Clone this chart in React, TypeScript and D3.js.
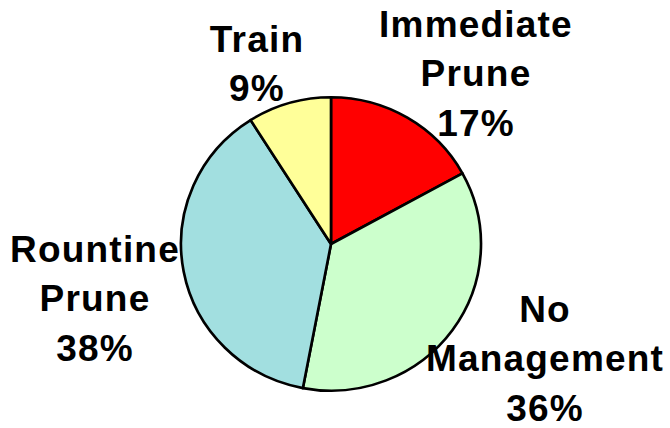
import React, { useRef, useEffect } from "react";
import * as d3 from "d3";

// slice order: clockwise from 12 o'clock
const categories = ["Immediate Prune", "No Management", "Rountine Prune", "Train"];
const shares = [17, 36, 38, 9];
const labelLines = [
  ["Immediate", "Prune", "17%"],
  ["No", "Management", "36%"],
  ["Rountine", "Prune", "38%"],
  ["Train", "9%"],
];
const colors = ["#ff0000", "#ccffcc", "#a2dfe0", "#ffff99"];

// label block centres (first baseline), layout only
const labelAnchors: [number, number][] = [
  [476, 37],
  [545, 322],
  [95, 262],
  [257, 52],
];

const PieChart = ({ width, height }: { width: number; height: number }) => {
  const d3Container = useRef(null);

  useEffect(() => {
    d3.select(d3Container.current).selectAll("*").remove();

    const svg = d3
      .select(d3Container.current)
      .attr("width", width)
      .attr("height", height);

    const cx = 331;
    const cy = 244;
    const ry = 146.7;
    const rx = 150;

    const pie = d3
      .pie<number>()
      .sort(null)
      .value((d) => d);
    const arcs = pie(shares);
    const arc = d3.arc<any>().innerRadius(0).outerRadius(ry);

    const g = svg
      .append("g")
      .attr("transform", `translate(${cx},${cy}) scale(${rx / ry},1)`);

    g.selectAll("path")
      .data(arcs)
      .enter()
      .append("path")
      .attr("d", arc)
      .attr("fill", (_d, i) => colors[i])
      .attr("stroke", "#000")
      .attr("stroke-width", 2.6)
      .attr("stroke-linejoin", "round");

    const labels = svg
      .append("g")
      .attr("font-family", "'Liberation Sans', Arial, sans-serif")
      .attr("font-weight", "bold")
      .attr("font-size", 37)
      .attr("letter-spacing", 1.2)
      .attr("text-anchor", "middle")
      .attr("fill", "#000");

    categories.forEach((_c, i) => {
      const [x, y] = labelAnchors[i];
      const t = labels.append("text").attr("x", x).attr("y", y);
      labelLines[i].forEach((line, j) => {
        t.append("tspan")
          .attr("x", x)
          .attr("dy", j === 0 ? 0 : 49.3)
          .text(line);
      });
    });
  }, [width, height]);

  return <svg ref={d3Container} style={{ display: "block" }}></svg>;
};

export default function App() {
  return (
    <div style={{ position: "absolute", left: 0, top: 0 }}>
      <PieChart width={670} height={428} />
    </div>
  );
}
